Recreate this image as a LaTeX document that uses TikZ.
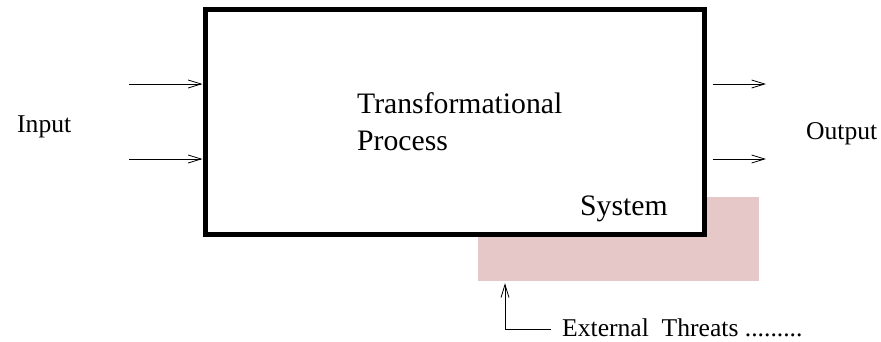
\documentclass[tikz,border=0pt]{standalone}
\usepackage{fontspec}
\setmainfont{Liberation Serif}
\newfontfamily\tnr{Liberation Serif}
\usetikzlibrary{arrows.meta}
\definecolor{threatpink}{RGB}{230,200,200}
\begin{document}
\begin{tikzpicture}[x=1pt,y=-1pt,
  arr/.style={line width=0.8pt,-{Straight Barb[length=13pt,width=8pt,line width=0.8pt]}},
  bigtxt/.style={font=\tnr\fontsize{29.7}{36}\selectfont,inner sep=0pt,anchor=base west},
  smalltxt/.style={font=\tnr\fontsize{25.6}{30}\selectfont,inner sep=0pt,anchor=base west},
  sysbox/.style={draw=black,fill=white,line width=5pt,inner sep=0pt,minimum width=499pt,minimum height=225.5pt},
  threatbox/.style={fill=threatpink,inner sep=0pt,minimum width=281pt,minimum height=84pt}]
\useasboundingbox (0,0) rectangle (881,341);
\node[threatbox] (threat) at (618.5,239) {};
\node[sysbox] (box) at (454.5,121.75) {};
\node[bigtxt] (t1) at (357,113) {Transformational};
\node[bigtxt] (t2) at (357,150) {Process};
\node[bigtxt] (sys) at (580,215) {System};
\node[smalltxt] (in) at (17,132) {Input};
\node[smalltxt] (out) at (806,139) {Output};
\node[smalltxt] (ext) at (562,336) {External\ \ Threats .........};
\coordinate (i1) at (129,84);
\coordinate (i2) at (129,159);
\coordinate (o1) at (766,84);
\coordinate (o2) at (766,159);
\draw[arr] (i1) -- (i1 -| box.west);
\draw[arr] (i2) -- (i2 -| box.west);
\draw[arr,shorten <=6pt] (o1 -| box.east) -- (o1);
\draw[arr,shorten <=6pt] (o2 -| box.east) -- (o2);
\coordinate (c) at (505,329);
\coordinate (ce) at (551,329);
\draw[arr,shorten >=2pt] (ce) -- (c) -- (c |- threat.south);
\end{tikzpicture}
\end{document}
